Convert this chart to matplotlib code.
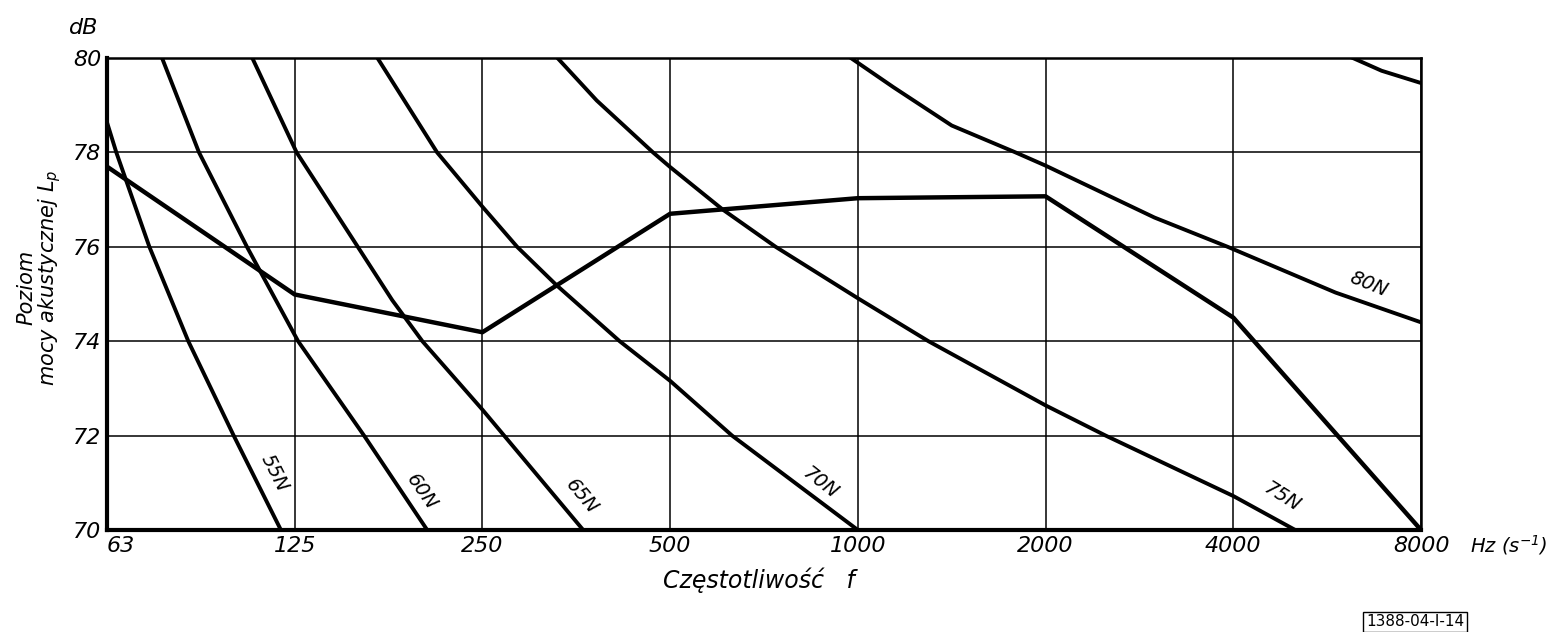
import numpy as np
import matplotlib.pyplot as plt

# octave band centre frequencies (Hz) and tick labels
bands = [62.5, 125, 250, 500, 1000, 2000, 4000, 8000]
band_labels = ['63', '125', '250', '500', '1000', '2000', '4000', '8000']
db_ticks = [70, 72, 74, 76, 78, 80]

# measured sound power level spectrum
lp_db = [77.70, 74.99, 74.19, 76.70, 77.03, 77.07, 74.5, 70.0]

# N-curves (frequency in Hz, level in dB)
n55_f = [62.5, 64.7, 73.1, 84.4, 99.8, 118.8]
n55_db = [78.64, 78.0, 76.0, 74.0, 72.0, 70.0]

n60_f = [76.6, 87.8, 104.8, 126.6, 161.5, 203.9]
n60_db = [80.0, 78.0, 76.0, 74.0, 72.0, 70.0]

n65_f = [106.9, 125.9, 157.8, 179.2, 200.3, 250, 362.7]
n65_db = [80.0, 78.0, 76.0, 74.87, 74.0, 72.55, 70.0]

n70_f = [169.7, 211.5, 250, 284.2, 328.5, 415.0, 500, 628.5, 787.3, 1000]
n70_db = [80.0, 78.0, 76.85, 76.0, 75.19, 74.0, 73.16, 72.0, 71.03, 70.0]

n75_f = [329.9, 381.3, 469.4, 500, 607.1, 738.2, 1000, 1297.8, 2000, 2496.8, 4000, 5028]
n75_db = [80.0, 79.10, 78.0, 77.69, 76.79, 76.0, 74.91, 74.0, 72.64, 72.0, 70.72, 70.0]

n80_f = [974.6, 1140.8, 1414.2, 1790, 2000, 2989.8, 3917.6, 5835.9, 8000]
n80_db = [80.0, 79.38, 78.57, 78.0, 77.72, 76.62, 76.0, 75.03, 74.40]

n85_f = [6220.4, 6916.4, 8000]
n85_db = [80.0, 79.73, 79.47]

curves = [(n55_f, n55_db), (n60_f, n60_db), (n65_f, n65_db), (n70_f, n70_db),
          (n75_f, n75_db), (n80_f, n80_db), (n85_f, n85_db)]

# curve labels: text, freq, dB, angle
labels = [('55N', 116, 71.2, -63), ('60N', 200, 70.8, -55), ('65N', 361, 70.7, -50),
          ('70N', 870, 71.0, -38), ('75N', 4780, 70.7, -32), ('80N', 6590, 75.2, -22)]

plt.rcParams['font.family'] = ['DejaVu Sans']
plt.rcParams['font.style'] = 'italic'

fig = plt.figure(figsize=(15.59, 6.32), dpi=100)
ax = fig.add_axes([0.0686, 0.1614, 0.8429, 0.7468])

ax.set_xscale('log', base=2)
ax.set_xlim(62.5, 8000)
ax.set_ylim(70, 80)

for x in bands:
    ax.axvline(x, color='black', lw=1.1, zorder=1)
for y in db_ticks:
    ax.axhline(y, color='black', lw=1.1, zorder=1)

for f, d in curves:
    ax.plot(f, d, color='black', lw=2.8, solid_joinstyle='round', zorder=3)
ax.plot(bands, lp_db, color='black', lw=3.2, solid_joinstyle='round', zorder=3)

for txt, f, d, ang in labels:
    ax.text(f, d, txt, rotation=ang, ha='center', va='center', fontsize=14,
            rotation_mode='anchor', zorder=4)

ax.set_xticks(bands)
ax.set_xticklabels(band_labels, fontsize=16)
ax.set_yticks(db_ticks)
ax.set_yticklabels([str(v) for v in db_ticks], fontsize=16)
ax.tick_params(length=0, pad=4)
ax.minorticks_off()
ax.get_xticklabels()[0].set_horizontalalignment('left')

for side in ['left', 'bottom']:
    ax.spines[side].set_linewidth(3)
for side in ['top', 'right']:
    ax.spines[side].set_linewidth(1.8)

fig.text(0.044, 0.955, 'dB', fontsize=16, ha='left', va='center')
fig.text(0.943, 0.138, r'Hz (s$^{-1}$)', fontsize=14, ha='left', va='center')
fig.text(0.487, 0.082, 'Częstotliwość   f', fontsize=17, ha='center', va='center')
fig.text(0.017, 0.545, 'Poziom', fontsize=15, rotation=90, ha='center', va='center')
fig.text(0.032, 0.56, r'mocy akustycznej $L_p$', fontsize=15, rotation=90,
         ha='center', va='center')
fig.text(0.9076, 0.016, '1388-04-I-14', fontsize=11, style='normal', ha='center', va='center',
         bbox=dict(facecolor='white', edgecolor='black', lw=1, pad=2))

fig.savefig('out.png', dpi=100)
